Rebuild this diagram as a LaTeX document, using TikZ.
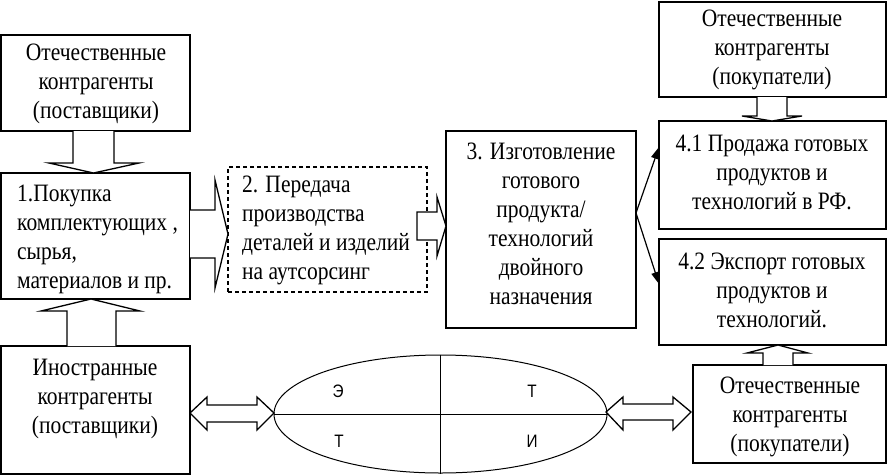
\documentclass[tikz,border=0pt]{standalone}
\usepackage{fontspec}
\setmainfont{Liberation Serif}[FakeStretch=0.86]
\newfontfamily\sansfam{Liberation Sans}[FakeStretch=0.85]
\usetikzlibrary{arrows.meta,shapes.geometric}
\begin{document}
\begin{tikzpicture}[x=1pt,y=-1pt,
 frame/.style={draw,line width=1.5pt,inner sep=0pt},
 dframe/.style={frame,dash pattern=on 4pt off 3pt},
 txt/.style={inner sep=0pt,align=center,font=\fontsize{25pt}{29pt}\selectfont},
 ltxt/.style={txt,align=flush left,anchor=west},
 blk/.style={draw,fill=white,line width=1.3pt,line join=miter},
 thinarrow/.style={line width=1.2pt,-{Triangle[length=12pt,width=8pt]}},
 letter/.style={font=\sansfam\fontsize{18pt}{20pt}\selectfont,inner sep=0pt}]
\useasboundingbox (0,0) rectangle (887,475);
% frames
\node[frame,minimum width=189pt,minimum height=96pt] (s1) at (95.5,83) {};
\node[frame,minimum width=189pt,minimum height=126pt] (b1) at (95.5,236) {};
\node[dframe,minimum width=199pt,minimum height=125pt] (b2) at (327.5,229.5) {};
\node[frame,minimum width=190pt,minimum height=197pt] (b3) at (541,229.5) {};
\node[frame,minimum width=227pt,minimum height=95pt] (s2) at (772.5,49.5) {};
\node[frame,minimum width=227pt,minimum height=108pt] (b41) at (772.5,175) {};
\node[frame,minimum width=227pt,minimum height=106pt] (b42) at (772.5,292) {};
\node[frame,minimum width=189pt,minimum height=128pt] (s3) at (95.5,410) {};
\node[frame,minimum width=193pt,minimum height=98pt] (s4) at (789.5,414) {};
\node[ellipse,draw,line width=1pt,minimum width=333pt,minimum height=118pt,inner sep=0pt] (ell) at (440.5,414) {};
\draw[line width=0.8pt] (ell.north) -- (ell.south);
\draw[line width=0.8pt] (ell.west) -- (ell.east);
% block arrows
\draw[blk] (73,131) -- (73,163) -- (49,163) -- (93.5,173) -- (139,163) -- (114,163) -- (114,131);
\draw[blk] (67,346) -- (67,311) -- (41,311) -- (91,299) -- (140,311) -- (116,311) -- (116,346);
\draw[blk] (190,210) -- (215,210) -- (215,180) -- (228,234) -- (215,288) -- (215,258) -- (190,258);
\draw[blk] (417,212) -- (437,212) -- (437,197) -- (446,226) -- (437,256) -- (437,240) -- (417,240) -- cycle;
\draw[blk] (757,97) -- (757,116) -- (742,116) -- (772,121) -- (802,116) -- (787,116) -- (787,97);
\draw[blk] (763,365) -- (763,353) -- (747,353) -- (778,345) -- (808,353) -- (793,353) -- (793,365);
\draw[blk] (190,413) -- (207,397) -- (207,405) -- (257,405) -- (257,397) -- (274,413) -- (257,430) -- (257,422) -- (207,422) -- (207,430) -- cycle;
\draw[blk] (606,412) -- (623,397) -- (623,404) -- (673,404) -- (673,397) -- (691,412) -- (673,430) -- (673,420) -- (623,420) -- (623,430) -- cycle;
% thin arrows
\coordinate (fork) at (636,213);
\coordinate (t41) at (659,147);
\coordinate (t42) at (659,284);
\draw[thinarrow] (fork) -- (t41);
\draw[thinarrow] (fork) -- (t42);
% texts
\node[txt] (s1t) at (96,84) {Отечественные\\контрагенты\\(поставщики)};
\node[ltxt] (b1t) at (17,239) {1.Покупка\\комплектующих~,\\сырья,\\материалов и пр.};
\node[ltxt] (b2t) at (242,230.5) {2. Передача\\производства\\деталей и изделий\\на аутсорсинг};
\node[txt] (b3t) at (541,224) {3. Изготовление\\готового\\продукта/\\технологий\\двойного\\назначения};
\node[txt] (s2t) at (772,50) {Отечественные\\контрагенты\\(покупатели)};
\node[txt] (b41t) at (772,172) {4.1 Продажа готовых\\продуктов и\\технологий в РФ.};
\node[txt] (b42t) at (772,290) {4.2 Экспорт готовых\\продуктов и\\технологий.};
\node[txt] (s3t) at (95,398.5) {Иностранные\\контрагенты\\(поставщики)};
\node[txt] (s4t) at (790,416.5) {Отечественные\\контрагенты\\(покупатели)};
\node[letter] (l1) at (338,391.5) {Э};
\node[letter] (l2) at (532,391.5) {Т};
\node[letter] (l3) at (339,441) {Т};
\node[letter] (l4) at (532,441) {И};
\end{tikzpicture}
\end{document}
